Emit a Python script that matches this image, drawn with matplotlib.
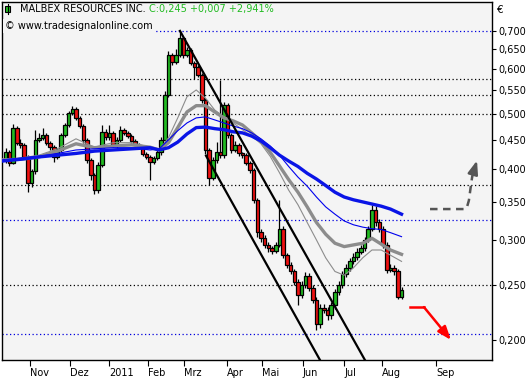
import matplotlib
matplotlib.use("Agg")
import matplotlib.pyplot as plt
from matplotlib.patches import Rectangle
from matplotlib.ticker import NullLocator

#mesi sull'asse x, posizionati come indice del giorno di borsa
mesi = ["Nov", "Dez", "2011", "Feb", "Mrz", "Apr", "Mai", "Jun", "Jul", "Aug", "Sep"]
giorni_mesi = [15.1, 36.8, 57.8, 78.9, 98.4, 121.6, 140.5, 162.7, 184.9, 205.4, 234.6]

#tacche dell'asse dei prezzi (scala logaritmica)
tacche_y = [0.2, 0.25, 0.3, 0.35, 0.4, 0.45, 0.5, 0.55, 0.6, 0.65, 0.7]
etichette_y = ["0,200", "0,250", "0,300", "0,350", "0,400", "0,450",
               "0,500", "0,550", "0,600", "0,650", "0,700"]

#una candela ogni due giorni di borsa
giorni = list(range(2, 218, 2))

aperture = [.415, .428, .410, .473, .445, .441, .420, .378, .396, .450,
            .454, .459, .445, .437, .420, .432, .459, .478, .502, .510,
            .492, .476, .450, .415, .390, .367, .407, .465, .455, .463,
            .441, .450, .469, .463, .457, .448, .441, .437, .425, .420,
            .412, .418, .428, .450, .540, .635, .617, .635, .680, .635,
            .648, .615, .605, .586, .529, .432, .386, .415, .428, .423,
            .519, .459, .432, .441, .426, .423, .410, .398, .353, .310,
            .302, .294, .290, .287, .294, .314, .282, .271, .264, .253,
            .240, .250, .259, .247, .235, .213, .228, .226, .221, .230,
            .243, .250, .261, .268, .275, .280, .286, .290, .300, .314,
            .339, .322, .314, .294, .266, .268, .264, .238]
massimi = [.435, .432, .480, .476, .452, .445, .424, .400, .469, .462,
           .473, .462, .448, .440, .436, .463, .482, .506, .517, .514,
           .496, .480, .454, .418, .393, .412, .478, .470, .478, .466,
           .455, .476, .473, .467, .460, .451, .444, .440, .428, .423,
           .422, .432, .455, .548, .645, .640, .650, .700, .684, .655,
           .652, .620, .610, .590, .533, .436, .420, .447, .574, .525,
           .523, .463, .448, .444, .429, .426, .413, .401, .356, .314,
           .306, .297, .293, .298, .353, .317, .285, .274, .267, .256,
           .254, .263, .262, .250, .238, .231, .231, .229, .233, .246,
           .254, .265, .272, .279, .284, .290, .294, .304, .318, .346,
           .344, .326, .318, .297, .272, .271, .267, .248]
minimi = [.410, .405, .408, .440, .436, .416, .365, .372, .392, .446,
          .450, .441, .432, .412, .416, .428, .455, .474, .498, .488,
          .472, .445, .410, .383, .361, .363, .403, .450, .450, .437,
          .436, .446, .459, .453, .444, .437, .433, .421, .416, .383,
          .408, .414, .424, .446, .535, .610, .612, .630, .628, .630,
          .610, .575, .580, .522, .425, .375, .382, .410, .418, .418,
          .454, .426, .428, .422, .419, .406, .394, .348, .304, .298,
          .290, .286, .283, .284, .291, .279, .268, .261, .250, .230,
          .237, .247, .244, .232, .208, .210, .223, .217, .218, .227,
          .240, .247, .258, .265, .272, .277, .283, .287, .297, .311,
          .318, .310, .290, .262, .263, .260, .236, .236]
chiusure = [.428, .410, .473, .445, .441, .420, .378, .396, .450, .454,
            .459, .445, .437, .420, .432, .459, .478, .502, .510, .492,
            .476, .450, .415, .390, .367, .407, .465, .455, .463, .441,
            .450, .469, .463, .457, .448, .441, .437, .425, .420, .412,
            .418, .428, .450, .540, .635, .617, .635, .680, .635, .648,
            .615, .605, .586, .529, .432, .386, .415, .428, .423, .519,
            .459, .432, .441, .426, .423, .410, .398, .353, .310, .302,
            .294, .290, .287, .294, .314, .282, .271, .264, .253, .240,
            .250, .259, .247, .235, .213, .228, .226, .221, .230, .243,
            .250, .261, .268, .275, .280, .286, .290, .300, .314, .339,
            .322, .314, .294, .266, .268, .264, .238, .245]

#medie mobili
giorni_ma = [0, 10, 20, 30, 40, 50, 60, 70, 80,
             85, 90, 95, 100, 105, 110, 115, 120, 125, 130, 135, 140, 145, 150,
             155, 160, 165, 170, 175, 180, 185, 190, 195, 200, 205, 210, 216]
ma_blu_spessa = [.413, .416, .420, .423, .426, .430, .432, .434, .436,
                 .432, .436, .446, .461, .473, .474, .471, .469, .465, .463,
                 .457, .448, .436, .423, .413, .404, .393, .384, .374, .364,
                 .357, .353, .350, .347, .344, .340, .333]
ma_blu_sottile = [.415, .418, .421, .426, .432, .434, .436, .436, .432,
                  .434, .450, .467, .482, .492, .494, .488, .482, .476, .471,
                  .463, .452, .439, .423, .404, .387, .373, .357, .343, .333,
                  .324, .319, .316, .314, .313, .309, .304]
ma_grigia_spessa = [.415, .416, .420, .430, .443, .436, .439, .441, .437,
                    .432, .445, .473, .504, .517, .517, .504, .492, .486, .478,
                    .463, .448, .428, .405, .383, .364, .343, .322, .307, .296,
                    .292, .294, .296, .302, .295, .288, .283]
ma_grigia_sottile = [.415, .418, .423, .434, .452, .437, .445, .445, .437,
                     .432, .454, .492, .536, .551, .533, .508, .494, .482, .469,
                     .457, .443, .421, .394, .367, .346, .322, .300, .279, .264,
                     .260, .268, .279, .288, .288, .282, .275]

#livelli orizzontali tratteggiati
livelli_neri = [0.575, 0.54, 0.50, 0.375, 0.25]
livelli_blu = [0.70, 0.325, 0.205]

#canale ribassista (giorno, prezzo)
canale_alto = ([96.2, 196.2], [0.700, 0.1844])
canale_basso = ([110.3, 171.9], [0.422, 0.1844])

#frecce di scenario: percorso tratteggiato + punta
freccia_grigia = ([231.4, 250.5, 251.4, 252.4, 253.3, 254.2], [0.340, 0.340, 0.343, 0.352, 0.370, 0.388])
punta_grigia = (256.8, 0.414)
freccia_rossa = ([220.5, 228.1, 242.7], [0.2285, 0.2285, 0.200])

VERDE = "#22bb22"
ROSSO = "#ee1111"

W, H = 531, 380
fig = plt.figure(figsize=(W / 100, H / 100), dpi=100)
fig.patch.set_facecolor("white")
ax = fig.add_axes([2 / W, 20 / H, 490 / W, 358 / H])
ax.set_facecolor("#f4f4f4")
ax.set_yscale("log")
ax.set_xlim(0, 264.9)
ax.set_ylim(0.1844, 0.787)

for p in livelli_neri:
    ax.axhline(p, color="black", lw=0.9, ls=(0, (1, 2)), zorder=1)
for p in livelli_blu:
    ax.axhline(p, color="#0000dd", lw=0.9, ls=(0, (1, 2)), zorder=1)

#candele: stoppino nero e corpo colorato con bordo nero
colori = [VERDE if c >= o else ROSSO for o, c in zip(aperture, chiusure)]
basi = [min(o, c) for o, c in zip(aperture, chiusure)]
altezze = [max(abs(c - o), 0.0015) for o, c in zip(aperture, chiusure)]
ax.vlines(giorni, minimi, massimi, color="black", lw=0.9, zorder=2)
ax.bar(giorni, altezze, bottom=basi, width=1.9, color=colori,
       edgecolor="black", linewidth=0.9, zorder=3)

ax.plot(giorni_ma, ma_grigia_sottile, color="#8c8c8c", lw=0.8, zorder=4)
ax.plot(giorni_ma, ma_grigia_spessa, color="#8c8c8c", lw=2.4, zorder=4)
ax.plot(giorni_ma, ma_blu_sottile, color="#0000ee", lw=0.8, zorder=4)
ax.plot(giorni_ma, ma_blu_spessa, color="#0a14e6", lw=2.4, zorder=4)

ax.plot(*canale_alto, color="black", lw=1.6, zorder=5)
ax.plot(*canale_basso, color="black", lw=1.6, zorder=5)

gx, gy = freccia_grigia
ax.plot(gx, gy, color="#555555", lw=1.8, ls=(0, (3, 2.2)), zorder=5)
ax.annotate("", xy=punta_grigia, xytext=(gx[-1], gy[-1]),
            arrowprops=dict(arrowstyle="-|>,head_width=0.3,head_length=0.8",
                            color="#555555", lw=1.8, shrinkA=0, shrinkB=0))
rx, ry = freccia_rossa
ax.plot(rx[:2], ry[:2], color="#ff0000", lw=1.8, zorder=5)
ax.annotate("", xy=(rx[2], ry[2]), xytext=(rx[1], ry[1]),
            arrowprops=dict(arrowstyle="-|>,head_width=0.3,head_length=0.8",
                            color="#ff0000", lw=1.8, shrinkA=0, shrinkB=0))

#assi
ax.yaxis.tick_right()
ax.set_yticks(tacche_y)
ax.set_yticklabels(etichette_y)
ax.yaxis.set_minor_locator(NullLocator())
ax.tick_params(axis="y", length=3, width=0.8, pad=1.5, labelsize=7)
ax.set_xticks(giorni_mesi)
ax.set_xticklabels(mesi)
ax.tick_params(axis="x", length=4, width=0.8, pad=2, labelsize=7)
for lab in ax.get_xticklabels():
    lab.set_ha("left")
for s in ax.spines.values():
    s.set_color("black")
    s.set_linewidth(1)

#intestazione
fig.add_artist(Rectangle((5 / W, 1 - 12 / H), 5 / W, 6 / H, transform=fig.transFigure,
                         facecolor=VERDE, edgecolor="black", lw=0.8))
fig.add_artist(plt.Line2D([7.5 / W, 7.5 / W], [1 - 4 / H, 1 - 14 / H],
                          transform=fig.transFigure, color="black", lw=0.8))
fig.text(20 / W, 1 - 9 / H, "MALBEX RESOURCES INC.", fontsize=7, va="center")
fig.text(149 / W, 1 - 9 / H, "C:0,245 +0,007 +2,941%", fontsize=7, va="center",
         color="#22bb22")
fig.text(5 / W, 1 - 26 / H, "\u00a9 www.tradesignalonline.com", fontsize=7, va="center",
         bbox=dict(facecolor="#f4f4f4", edgecolor="none", pad=1.2))
fig.text(497 / W, 1 - 10 / H, "\u20ac", fontsize=7.5, va="center")

fig.savefig("out.png", dpi=100)
